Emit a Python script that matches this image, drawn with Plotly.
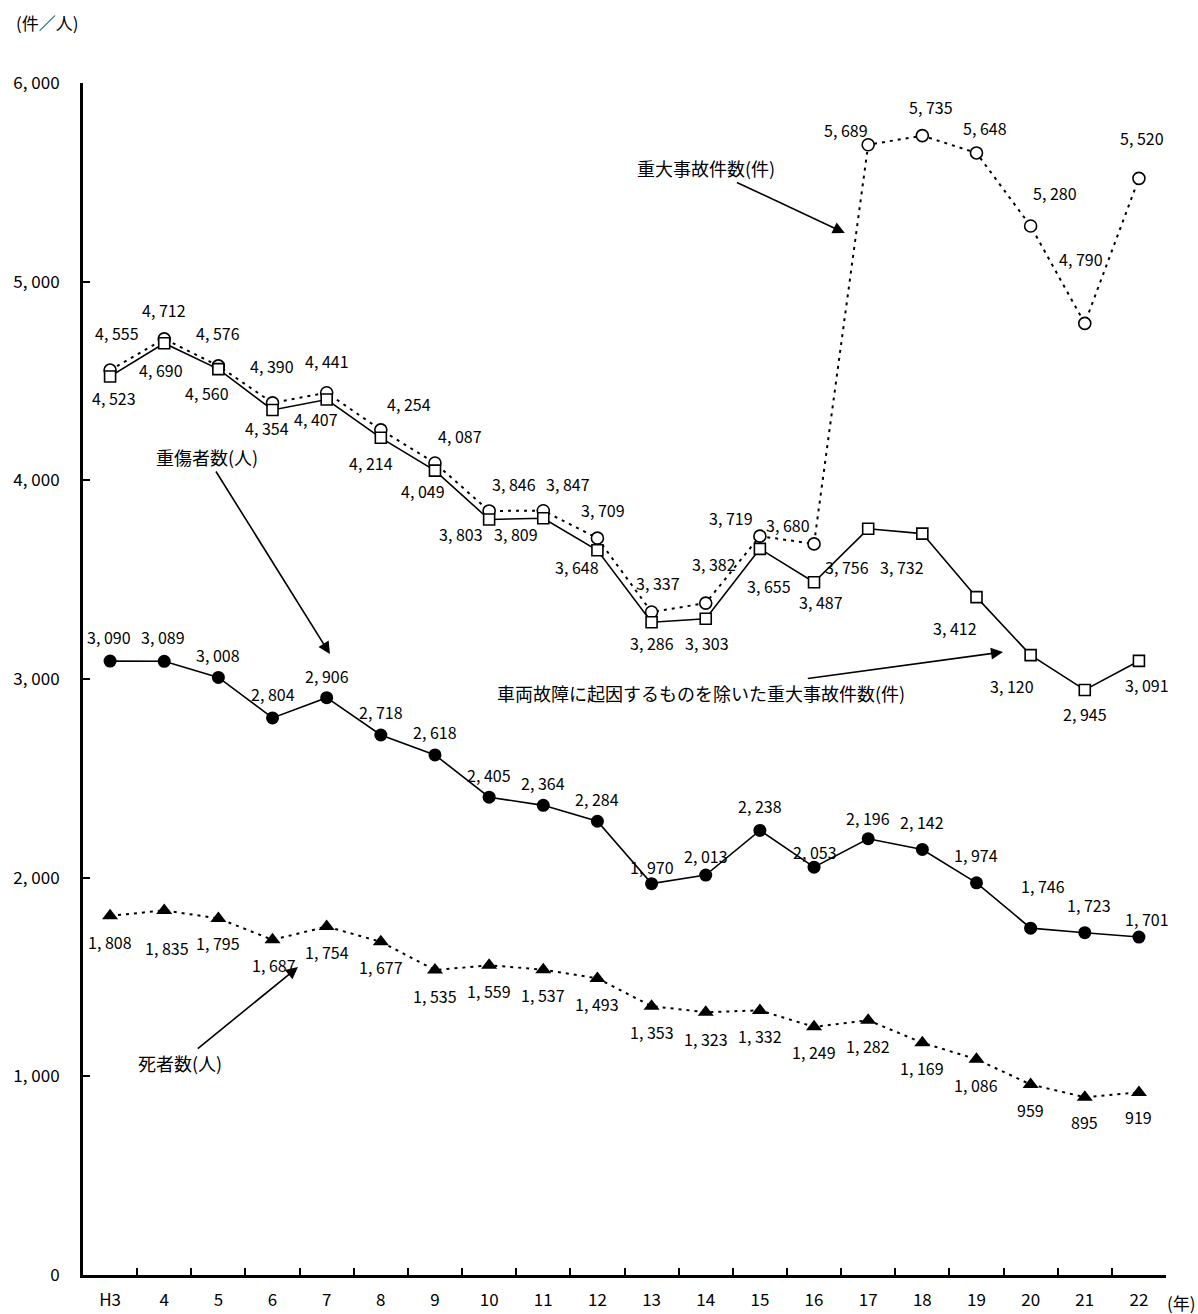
import plotly.graph_objects as go

# 年 (平成)
years = ["H3", "4", "5", "6", "7", "8", "9", "10", "11", "12",
         "13", "14", "15", "16", "17", "18", "19", "20", "21", "22"]

# 重大事故件数(件)
serious_accidents = [4555, 4712, 4576, 4390, 4441, 4254, 4087, 3846, 3847, 3709,
                     3337, 3382, 3719, 3680, 5689, 5735, 5648, 5280, 4790, 5520]
# 車両故障に起因するものを除いた重大事故件数(件)
excl_vehicle_fault = [4523, 4690, 4560, 4354, 4407, 4214, 4049, 3803, 3809, 3648,
                      3286, 3303, 3655, 3487, 3756, 3732, 3412, 3120, 2945, 3091]
# 重傷者数(人)
seriously_injured = [3090, 3089, 3008, 2804, 2906, 2718, 2618, 2405, 2364, 2284,
                     1970, 2013, 2238, 2053, 2196, 2142, 1974, 1746, 1723, 1701]
# 死者数(人)
fatalities = [1808, 1835, 1795, 1687, 1754, 1677, 1535, 1559, 1537, 1493,
              1353, 1323, 1332, 1249, 1282, 1169, 1086, 959, 895, 919]

y_tickvals = [0, 1000, 2000, 3000, 4000, 5000, 6000]
y_ticktext = ["0", "1, 000", "2, 000", "3, 000", "4, 000", "5, 000", "6, 000"]

# value-label placement (pixel offsets dx, dy from each point; dy positive = downward)
off_serious = [(7, -37), (0, -29), (0, -33), (-1, -37), (0, -32), (28, -26), (25, -27),
               (25, -27), (25, -27), (6, -28), (6, -29), (8, -39), (-29, -18), (-26, -19),
               (-22, -15), (9, -29), (9, -25), (24, -33), (-4, -64), (3, -40)]
off_excl = [(4, 22), (-3, 27), (-11, 24), (-6, 18), (-11, 20), (-10, 25), (-12, 20),
            (-28, 15), (-27, 16), (-20, 17), (0, 21), (1, 24), (9, 37), (7, 20),
            (-21, 38), (-20, 33), (-21, 31), (-19, 31), (0, 24), (8, 24)]
off_injured = [(-1, -24), (-1, -24), (0, -22), (0, -24), (0, -22), (0, -23), (0, -23),
               (0, -22), (0, -22), (0, -22), (0, -17), (0, -19), (0, -24), (1, -15),
               (0, -21), (0, -27), (0, -28), (12, -42), (4, -28), (8, -18)]
off_fatal = [(0, 26), (3, 38), (0, 25), (1, 25), (0, 25), (0, 25), (0, 26), (0, 26),
             (0, 25), (0, 26), (0, 26), (0, 27), (0, 26), (0, 25), (0, 26), (0, 25),
             (0, 26), (0, 26), (0, 25), (0, 25)]

FONT = "Noto Sans CJK JP"
BLACK = "#000000"
DOT = "3px,5px"

fig = go.Figure()

fig.add_trace(go.Scatter(
    x=years, y=serious_accidents, mode="lines+markers",
    line=dict(color=BLACK, width=2, dash=DOT),
    marker=dict(symbol="circle", size=12, color="white", line=dict(color=BLACK, width=1.6)),
    showlegend=False, cliponaxis=False))

fig.add_trace(go.Scatter(
    x=years, y=excl_vehicle_fault, mode="lines+markers",
    line=dict(color=BLACK, width=1.6),
    marker=dict(symbol="square", size=11, color="white", line=dict(color=BLACK, width=1.6)),
    showlegend=False, cliponaxis=False))

fig.add_trace(go.Scatter(
    x=years, y=seriously_injured, mode="lines+markers",
    line=dict(color=BLACK, width=1.6),
    marker=dict(symbol="circle", size=13, color=BLACK),
    showlegend=False, cliponaxis=False))

fig.add_trace(go.Scatter(
    x=years, y=fatalities, mode="lines+markers",
    line=dict(color=BLACK, width=2, dash=DOT),
    marker=dict(symbol="triangle-up", size=14, color=BLACK),
    showlegend=False, cliponaxis=False))


def fmt(v):
    return f"{v:,}".replace(",", ", ")


annotations = []
for series, offsets in ((serious_accidents, off_serious), (excl_vehicle_fault, off_excl),
                        (seriously_injured, off_injured), (fatalities, off_fatal)):
    # category positions are given by index so numeric-looking labels are not misread
    for idx, (val, (dx, dy)) in enumerate(zip(series, offsets)):
        annotations.append(dict(
            x=idx, y=val, xref="x", yref="y", text=fmt(val), showarrow=False,
            xshift=dx, yshift=-dy,
            font=dict(family=FONT, size=16, color=BLACK)))

# callout labels with arrows (x index, y value of arrow head; text offset in px)
callouts = [
    ("重大事故件数(件)", 13.57, 5245, -139, -65),
    ("重傷者数(人)", 4.06, 3126, -123, -197),
    ("車両故障に起因するものを除いた重大事故件数(件)", 16.49, 3136, -302, 41),
    ("死者数(人)", 3.47, 1550, -118, 96),
]
for text, xi, yv, ax, ay in callouts:
    annotations.append(dict(
        x=xi, y=yv, xref="x", yref="y", text=text,
        showarrow=True, arrowhead=2, arrowsize=1.5, arrowwidth=1.6, arrowcolor=BLACK,
        ax=ax, ay=ay, axref="pixel", ayref="pixel",
        font=dict(family=FONT, size=18, color=BLACK)))

# unit labels
annotations.append(dict(
    x=0, y=1, xref="paper", yref="paper", text="(件／人)", showarrow=False,
    xanchor="center", yanchor="middle",
    xshift=-36, yshift=61, font=dict(family=FONT, size=17, color=BLACK)))
annotations.append(dict(
    x=1, y=0, xref="paper", yref="paper", text="(年)", showarrow=False,
    xanchor="center", yanchor="middle",
    xshift=15, yshift=-27, font=dict(family=FONT, size=17, color=BLACK)))

fig.update_layout(
    width=1198, height=1314,
    margin=dict(l=83, r=32, t=83, b=39),
    paper_bgcolor="white", plot_bgcolor="white",
    font=dict(family=FONT, size=16, color=BLACK),
    annotations=annotations,
    showlegend=False,
)

fig.update_xaxes(
    type="category", range=[-0.5, 19.5], automargin=False,
    showline=True, linecolor=BLACK, linewidth=3,
    showgrid=False, zeroline=False,
    ticks="inside", tickson="boundaries", ticklen=7, tickwidth=2, tickcolor=BLACK,
    ticklabelstandoff=8,
    tickfont=dict(family=FONT, size=17, color=BLACK),
)
fig.update_yaxes(
    range=[0, 6000], automargin=False,
    tickvals=y_tickvals, ticktext=y_ticktext,
    showline=True, linecolor=BLACK, linewidth=3,
    showgrid=False, zeroline=False,
    ticks="inside", ticklen=7, tickwidth=2, tickcolor=BLACK,
    ticklabelstandoff=17,
    tickfont=dict(family=FONT, size=17, color=BLACK),
)

fig.write_html("out.html")
